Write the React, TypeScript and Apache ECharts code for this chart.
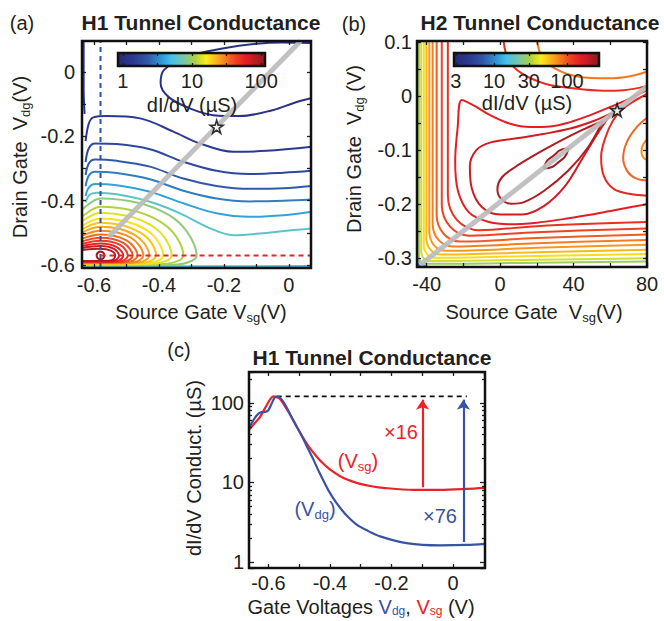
import React, { useEffect, useRef } from 'react';
import * as echarts from 'echarts';

// ================= DATA =================
// (a) H1 tunnel conductance: contour levels (µS) and contour lines in (Vsg, Vdg) [V]
const aLevels = [1.1, 1.1, 1.4, 1.8, 2.3, 3.0, 3.9, 6.0, 5.2, 3.6, 9, 11.4, 14, 17, 20, 24, 28, 33.5, 40, 47, 57, 70, 85, 103];
const aContours: number[][][] = [
  [[0.07, 0.09], [-0.02, 0.092], [-0.1, 0.088], [-0.2, 0.074], [-0.315, 0.047], [-0.385, 0.006], [-0.395, -0.035], [-0.37, -0.078], [-0.305, -0.113], [-0.233, -0.134], [-0.151, -0.137], [-0.048, -0.118], [0.013, -0.097], [0.07, -0.081]],
  [[-0.632, 0.1], [-0.632, -0.05], [-0.629, -0.13]],
  [[0.07, -0.232], [-0.069, -0.245], [-0.171, -0.248], [-0.274, -0.222], [-0.356, -0.185], [-0.458, -0.144], [-0.561, -0.137], [-0.602, -0.141], [-0.616, -0.16], [-0.626, -0.215]],
  [[0.07, -0.307], [-0.017, -0.313], [-0.12, -0.317], [-0.223, -0.307], [-0.325, -0.279], [-0.428, -0.24], [-0.53, -0.224], [-0.597, -0.222], [-0.616, -0.237], [-0.626, -0.28]],
  [[0.07, -0.354], [-0.017, -0.361], [-0.12, -0.363], [-0.223, -0.354], [-0.325, -0.331], [-0.428, -0.294], [-0.53, -0.276], [-0.597, -0.272], [-0.616, -0.284], [-0.626, -0.32]],
  [[0.07, -0.396], [-0.017, -0.4], [-0.12, -0.402], [-0.223, -0.393], [-0.325, -0.369], [-0.428, -0.333], [-0.53, -0.314], [-0.597, -0.31], [-0.616, -0.322], [-0.626, -0.355]],
  [[0.07, -0.434], [-0.017, -0.445], [-0.12, -0.45], [-0.223, -0.439], [-0.325, -0.408], [-0.428, -0.372], [-0.53, -0.352], [-0.597, -0.348], [-0.616, -0.359], [-0.626, -0.385]],
  [[0.07, -0.486], [-0.007, -0.493], [-0.089, -0.502], [-0.171, -0.507], [-0.253, -0.481], [-0.335, -0.439], [-0.428, -0.403], [-0.53, -0.38], [-0.592, -0.375], [-0.614, -0.382], [-0.626, -0.405]],
  [[-0.64, -0.604], [-0.3, -0.6035], [0.07, -0.603]],
  [[-0.64, -0.6085], [0.07, -0.608]],
  [[-0.645, -0.437], [-0.58, -0.393], [-0.462, -0.407], [-0.37, -0.444], [-0.314, -0.496], [-0.284, -0.57], [-0.343, -0.598], [-0.491, -0.601], [-0.645, -0.601]],
  [[-0.645, -0.457], [-0.58, -0.419], [-0.478, -0.431], [-0.399, -0.463], [-0.35, -0.507], [-0.325, -0.57], [-0.376, -0.596], [-0.503, -0.599], [-0.645, -0.599]],
  [[-0.645, -0.47], [-0.58, -0.437], [-0.492, -0.448], [-0.425, -0.476], [-0.383, -0.514], [-0.361, -0.57], [-0.405, -0.594], [-0.514, -0.597], [-0.645, -0.597]],
  [[-0.645, -0.484], [-0.58, -0.455], [-0.503, -0.464], [-0.443, -0.488], [-0.406, -0.522], [-0.387, -0.57], [-0.426, -0.593], [-0.522, -0.596], [-0.645, -0.596]],
  [[-0.645, -0.494], [-0.58, -0.468], [-0.512, -0.476], [-0.459, -0.498], [-0.426, -0.527], [-0.409, -0.57], [-0.443, -0.592], [-0.529, -0.595], [-0.645, -0.595]],
  [[-0.645, -0.503], [-0.58, -0.481], [-0.52, -0.488], [-0.474, -0.507], [-0.445, -0.533], [-0.43, -0.57], [-0.46, -0.591], [-0.535, -0.594], [-0.645, -0.594]],
  [[-0.645, -0.512], [-0.58, -0.493], [-0.486, -0.515], [-0.448, -0.57], [-0.474, -0.59], [-0.54, -0.593], [-0.645, -0.593]],
  [[-0.645, -0.521], [-0.58, -0.505], [-0.499, -0.524], [-0.466, -0.57], [-0.489, -0.589], [-0.546, -0.592], [-0.645, -0.592]],
  [[-0.645, -0.529], [-0.58, -0.515], [-0.51, -0.531], [-0.481, -0.57], [-0.501, -0.588], [-0.55, -0.591], [-0.645, -0.591]],
  [[-0.645, -0.536], [-0.58, -0.524], [-0.52, -0.537], [-0.496, -0.57], [-0.513, -0.587], [-0.555, -0.59], [-0.645, -0.59]],
  [[-0.645, -0.542], [-0.58, -0.533], [-0.53, -0.544], [-0.51, -0.57], [-0.524, -0.586], [-0.56, -0.589], [-0.645, -0.589]],
  [[-0.645, -0.548], [-0.58, -0.541], [-0.54, -0.549], [-0.523, -0.57], [-0.534, -0.585], [-0.565, -0.588], [-0.645, -0.588]],
  [[-0.645, -0.554], [-0.58, -0.549], [-0.548, -0.555], [-0.535, -0.57], [-0.543, -0.584], [-0.57, -0.587], [-0.645, -0.587]],
  [[-0.58, -0.558], [-0.5715, -0.5615], [-0.568, -0.57], [-0.5715, -0.5785], [-0.58, -0.582], [-0.5885, -0.5785], [-0.592, -0.57], [-0.5885, -0.5615], [-0.58, -0.558]],
];
const aStar = [-0.2225, -0.17];
const aPeak = [-0.58, -0.57];
const aDiagonal = [[-0.555, -0.5125], [0.036, 0.0964]];
const aColorbarRange = [0.85, 114];
const aColorbarLabels = [1, 10, 100];
const aColorbarMarks = [1, 3.16, 10, 31.6, 100];
const aXLabels = [-0.6, -0.4, -0.2, 0];
const aXMarks = [-0.6, -0.5, -0.4, -0.3, -0.2, -0.1, 0];
const aYLabels = [-0.6, -0.4, -0.2, 0];
const aYMarks = [-0.6, -0.5, -0.4, -0.3, -0.2, -0.1, 0];

// (b) H2 tunnel conductance: contour levels (µS) and lines in (Vsg, Vdg)
const bLevels = [7.7, 12.8, 27.9, 36.6, 48.2, 57.9, 69.5, 79.8, 95.6, 110, 126, 83, 132, 72.8, 91, 138, 151, 173, 218, 250];
const bContours: number[][][] = [
  [[-45.5, -0.303], [-44.5, -0.312], [-42.5, -0.318]],
  [[-45.5, -0.286], [-44.2, -0.305], [-41.5, -0.313], [-37, -0.318]],
  [[-44.3, 0.104], [-44.3, -0.1], [-44.3, -0.298], [-43.4, -0.3065], [-41.3, -0.31], [20, -0.308], [80, -0.306]],
  [[-43, 0.104], [-43, -0.1], [-43, -0.287], [-41.7, -0.2998], [-38.5, -0.305], [20, -0.3025], [80, -0.3]],
  [[-41.6, 0.104], [-41.6, -0.1], [-41.6, -0.275], [-39.9, -0.292], [-35.6, -0.299], [20, -0.2955], [80, -0.292]],
  [[-40.2, 0.104], [-40.2, -0.1], [-40.2, -0.263], [-38, -0.284], [-32.7, -0.293], [20, -0.2885], [80, -0.284]],
  [[-38.6, 0.104], [-38.6, -0.1], [-38.6, -0.25], [-36, -0.276], [-29.6, -0.286], [20, -0.2805], [80, -0.275]],
  [[-36.8, 0.104], [-36.8, -0.1], [-36.8, -0.235], [-33.6, -0.266], [-25.8, -0.278], [20, -0.272], [80, -0.266]],
  [[-34.6, 0.104], [-34.6, -0.1], [-34.6, -0.219], [-30.8, -0.2545], [-21.6, -0.269], [20, -0.2625], [80, -0.256]],
  [[-31.8, 0.104], [-31.8, -0.1], [-31.8, -0.2], [-27.4, -0.241], [-16.8, -0.258], [20, -0.2515], [80, -0.245]],
  [[-28.5, 0.104], [-28.5, -0.1], [-28.5, -0.182], [-23.6, -0.229], [-11.5, -0.248], [20, -0.2405], [80, -0.233]],
  [[20, 0.104], [22.7, 0.073], [30, 0.051], [42.7, 0.036], [59.1, 0.033], [70.9, 0.037], [80, 0.045]],
  [[1.8, 0.104], [4.5, 0.067], [11.8, 0.042], [24.5, 0.023], [40.9, 0.014], [56.4, 0.01], [67.3, 0.011], [80, 0.019]],
  [[80, -0.08], [77.5, -0.092], [77, -0.105], [78.2, -0.114], [80, -0.118]],
  [[80, -0.04], [74.5, -0.057], [69, -0.085], [67, -0.115], [69.5, -0.14], [74, -0.152], [80, -0.156]],
  [[80, 0.004], [72, -0.011], [66, -0.026], [61.5, -0.045], [57.5, -0.075], [55, -0.112], [56.5, -0.148], [62, -0.172], [71, -0.181], [80, -0.184]],
  [[80, 0.011], [70.9, -0.004], [60, -0.02], [49.1, -0.035], [38.2, -0.048], [27.3, -0.056], [16.4, -0.057], [5.5, -0.051], [-5.5, -0.035], [-14.5, -0.017], [-20.9, -0.007], [-23.2, -0.06], [-24.5, -0.12], [-23, -0.175], [-17, -0.215], [-7, -0.232], [5, -0.237], [20, -0.234], [35, -0.227], [50, -0.219], [65, -0.209], [80, -0.2]],
  [[61, -0.031], [50.9, -0.046], [38.2, -0.06], [23.6, -0.07], [9.1, -0.078], [-5.5, -0.086], [-13, -0.1], [-16.5, -0.13], [-15.5, -0.17], [-10, -0.205], [0, -0.219], [12, -0.219], [24, -0.203], [35, -0.168], [44, -0.12], [52, -0.075], [58, -0.044], [61, -0.031]],
  [[56, -0.046], [44.5, -0.063], [30, -0.088], [17.3, -0.112], [8.2, -0.131], [1, -0.15], [-1.5, -0.172], [0.5, -0.19], [6, -0.199], [13, -0.196], [24, -0.175], [37, -0.138], [48, -0.094], [56, -0.046]],
  [[23.6, -0.134], [25.7, -0.119], [29.2, -0.11], [32.7, -0.1], [37.3, -0.097], [35.3, -0.112], [31.8, -0.122], [28.3, -0.131], [23.6, -0.134]],
];
const bStar = [63.7, -0.026];
const bDiagonal = [[-43.5, -0.312], [80, 0.018]];
const bColorbarRange = [2.83, 274];
const bColorbarLabels = [3, 10, 30, 100];
const bXLabels = [-40, 0, 40, 80];
const bXMarks = [-40, -20, 0, 20, 40, 60, 80];
const bYLabels = [-0.3, -0.2, -0.1, 0, 0.1];
const bYMarks = [-0.3, -0.25, -0.2, -0.15, -0.1, -0.05, 0, 0.05, 0.1];

// (c) H1 conductance cuts through the peak
const cVdgVolts = [-0.663, -0.655, -0.644, -0.633, -0.622, -0.611, -0.6, -0.59, -0.579, -0.571, -0.563, -0.552, -0.541, -0.519, -0.498, -0.476, -0.454, -0.435, -0.418, -0.4, -0.38, -0.36, -0.34, -0.313, -0.28, -0.237, -0.151, -0.042, 0.044, 0.104];
const cVdgCond = [48, 55, 65, 73, 76.5, 77, 81, 97, 118, 120.5, 117, 104, 88.5, 60.3, 43, 29, 19.5, 13.5, 10, 7.4, 5.6, 4.45, 3.65, 2.95, 2.5, 2.1, 1.73, 1.62, 1.64, 1.69];
const cVsgVolts = [-0.663, -0.655, -0.644, -0.628, -0.606, -0.595, -0.584, -0.575, -0.563, -0.541, -0.519, -0.498, -0.48, -0.465, -0.44, -0.422, -0.4, -0.367, -0.33, -0.302, -0.26, -0.227, -0.129, -0.042, 0.044, 0.104];
const cVsgCond = [46, 49.7, 56, 66, 93, 110, 121, 119, 113, 84.5, 60.3, 43, 33, 27, 20.5, 17.3, 14.6, 12, 10.4, 9.6, 8.9, 8.55, 8.09, 8.09, 8.3, 8.55];
const cPeakCond = 121;
const cPeakSpan = [-0.573, 0.045];
const cArrowSg = [-0.099, 8.7, 110];
const cArrowDg = [0.034, 1.78, 110];
const cXLabels = [-0.6, -0.4, -0.2, 0];
const cXMarks = [-0.6, -0.5, -0.4, -0.3, -0.2, -0.1, 0, 0.1];
const cMinorMantissas = [2, 3, 4, 5, 6, 7, 8, 9];

// ================= STYLE =================
const FONT = '"Liberation Sans", Arial, Helvetica, sans-serif';
const INK = '#231f20';
const RED = '#ec2227';
const BLUE = '#3a52a3';
const JET: [number, string][] = [
  [0, '#262a78'], [0.1, '#2b3990'], [0.2, '#3157a6'], [0.3, '#2f9bd7'], [0.36, '#45c0e8'],
  [0.45, '#7cc7a4'], [0.52, '#a8cf45'], [0.6, '#fbec1d'], [0.7, '#f8981d'], [0.8, '#ef4123'],
  [0.87, '#e31e25'], [1, '#8e1a1e'],
];

const GA = { left: 82, top: 41, width: 229, height: 227 };
const GB = { left: 417, top: 41, width: 230, height: 226 };
const GC = { left: 249, top: 372, width: 236, height: 196 };
const CBA = { left: 118, top: 53, width: 147, height: 13 };
const CBB = { left: 454, top: 53, width: 145, height: 13 };
const AX = [-0.637, 0.068];
const AY = [-0.609, 0.0964];
const BX = [-45.3, 80];
const BY = [-0.316, 0.102];
const CX = [-0.663, 0.104];
const CY = [0.84, 245];

function hex(c: string) {
  return [1, 3, 5].map((i) => parseInt(c.slice(i, i + 2), 16));
}
function jet(t: number) {
  const u = Math.max(0, Math.min(1, t));
  for (let i = 1; i < JET.length; i++) {
    if (u <= JET[i][0]) {
      const [t0, c0] = JET[i - 1];
      const [t1, c1] = JET[i];
      const f = (u - t0) / (t1 - t0);
      const a = hex(c0);
      const b = hex(c1);
      return `rgb(${a.map((v, k) => Math.round(v + (b[k] - v) * f)).join(',')})`;
    }
  }
  return JET[JET.length - 1][1];
}
function levelColor(v: number, range: number[]) {
  const lo = Math.log10(range[0]);
  const hi = Math.log10(range[1]);
  return jet((Math.log10(v) - lo) / (hi - lo));
}

function valAxis(gridIndex: number, position: string, range: number[], marks: number[], labels: number[] | null, opts: any = {}) {
  return {
    type: 'value', gridIndex, position, min: range[0], max: range[1], z: 10,
    axisLine: { show: false, onZero: false }, splitLine: { show: false },
    axisTick: { show: true, inside: true, length: opts.tickLen ?? 4, lineStyle: { color: INK, width: 1.3 }, customValues: marks },
    axisLabel: labels
      ? { show: true, customValues: labels, fontSize: 20, color: INK, fontFamily: FONT, margin: opts.margin ?? 7, formatter: opts.formatter }
      : { show: false },
  };
}

function line(data: number[][], color: string, xi: number, yi: number, extra: any = {}) {
  return {
    type: 'line', xAxisIndex: xi, yAxisIndex: yi, data, symbol: 'none', showSymbol: false,
    smooth: 0.35, silent: true, clip: true, z: 2,
    lineStyle: { color, width: 2 }, ...extra,
  };
}

const STAR = 'path://M50,0 L61.8,35.4 L100,35.4 L69.1,57.3 L80.9,92.7 L50,70.8 L19.1,92.7 L30.9,57.3 L0,35.4 L38.2,35.4 Z';

function star(pt: number[], xi: number, yi: number) {
  return {
    type: 'scatter', xAxisIndex: xi, yAxisIndex: yi, data: [pt], symbol: STAR, symbolSize: 13, silent: true, z: 8,
    itemStyle: { color: '#ffffff', borderColor: '#000', borderWidth: 1.6 },
  };
}

const richBase = (subSize = 13, subPad = 11) => ({
  n: { fontSize: 20, fontFamily: FONT, fill: INK },
  s: { fontSize: subSize, fontFamily: FONT, fill: INK, padding: [subPad, 0, 0, 0] },
  b: { fontSize: 20, fontFamily: FONT, fill: BLUE },
  bs: { fontSize: subSize, fontFamily: FONT, fill: BLUE, padding: [subPad, 0, 0, 0] },
  r: { fontSize: 20, fontFamily: FONT, fill: RED },
  rs: { fontSize: subSize, fontFamily: FONT, fill: RED, padding: [subPad, 0, 0, 0] },
});

function txt(x: number, y: number, text: string, o: any = {}) {
  return {
    type: 'text', x, y, z: 40, silent: true, rotation: o.rot || 0,
    style: {
      text, fill: o.color || INK, fontSize: o.size || 20, fontFamily: FONT, fontWeight: o.weight || 'normal',
      align: 'center', verticalAlign: 'middle', textAlign: 'center', textVerticalAlign: 'middle',
      rich: o.rich,
    },
  };
}

function frame(g: any, z = 30) {
  return { type: 'rect', z, silent: true, shape: { x: g.left, y: g.top, width: g.width, height: g.height }, style: { fill: 'none', stroke: '#111', lineWidth: 2.5 } };
}

function gradientBar(g: any) {
  return {
    type: 'rect', z: 5, silent: true, shape: { x: g.left, y: g.top, width: g.width, height: g.height },
    style: { fill: new echarts.graphic.LinearGradient(0, 0, 1, 0, JET.map(([o, c]) => ({ offset: o, color: c }))) },
  };
}

function cbAxis(gridIndex: number, position: string, range: number[], marks: number[], labels: number[] | null) {
  return valAxis(gridIndex, position, range.map(Math.log10), marks.map(Math.log10), labels ? labels.map(Math.log10) : null, {
    tickLen: 3, margin: 5, formatter: (v: number) => String(Math.round(Math.pow(10, v))),
  });
}

function buildOption() {
  const series: any[] = [];
  // (a)
  aContours.forEach((pts, i) => series.push(line(pts, levelColor(aLevels[i], aColorbarRange), 0, 0)));
  series.push(line(aDiagonal, 'rgba(188,188,188,0.92)', 0, 0, { smooth: false, z: 3, lineStyle: { color: 'rgba(188,188,188,0.92)', width: 5 } }));
  series.push(line([[aPeak[0], AY[0]], [aPeak[0], AY[1]]], BLUE, 0, 0, { smooth: false, z: 4, lineStyle: { color: '#3151a3', width: 2, type: [5, 4] } }));
  series.push(line([[aPeak[0], aPeak[1]], [AX[1], aPeak[1]]], RED, 0, 0, { smooth: false, z: 4, lineStyle: { color: RED, width: 2, type: [5, 4] } }));
  series.push(star(aStar, 0, 0));
  // (b)
  bContours.forEach((pts, i) => series.push(line(pts, levelColor(bLevels[i], bColorbarRange), 2, 2)));
  series.push(line(bDiagonal, 'rgba(188,188,188,0.92)', 2, 2, { smooth: false, z: 3, lineStyle: { color: 'rgba(188,188,188,0.92)', width: 5 } }));
  series.push(star(bStar, 2, 2));
  // (c)
  series.push(line([[cPeakSpan[0], cPeakCond], [cPeakSpan[1], cPeakCond]], INK, 4, 4, { smooth: false, lineStyle: { color: '#111', width: 1.8, type: [5, 4] } }));
  series.push(line(cVsgVolts.map((v, i) => [v, cVsgCond[i]]), RED, 4, 4, {
    smooth: 0.3, z: 4, lineStyle: { color: RED, width: 2.2 },
    markLine: {
      silent: true, symbol: ['none', 'arrow'], symbolSize: 10, label: { show: false },
      lineStyle: { color: RED, width: 2.2, type: 'solid' },
      data: [[{ coord: [cArrowSg[0], cArrowSg[1]] }, { coord: [cArrowSg[0], cArrowSg[2]] }]],
    },
  }));
  series.push(line(cVdgVolts.map((v, i) => [v, cVdgCond[i]]), BLUE, 4, 4, {
    smooth: 0.3, z: 5, lineStyle: { color: BLUE, width: 2.2 },
    markLine: {
      silent: true, symbol: ['none', 'arrow'], symbolSize: 10, label: { show: false },
      lineStyle: { color: BLUE, width: 2.2, type: 'solid' },
      data: [[{ coord: [cArrowDg[0], cArrowDg[1]] }, { coord: [cArrowDg[0], cArrowDg[2]] }]],
    },
  }));

  const logFmt = (v: number) => {
    const l = Math.log10(v);
    return Math.abs(l - Math.round(l)) < 1e-6 ? String(Math.round(v)) : '';
  };
  const logAxis = (position: string, labels: boolean) => ({
    type: 'log', logBase: 10, gridIndex: 2, position, min: CY[0], max: CY[1], z: 10,
    axisLine: { show: false, onZero: false }, splitLine: { show: false }, minorTick: { show: false },
    axisTick: { show: true, inside: true, length: 5, lineStyle: { color: INK, width: 1.3 } },
    axisLabel: labels ? { show: true, fontSize: 20, color: INK, fontFamily: FONT, margin: 5, formatter: logFmt } : { show: false },
  });
  const minorMarks: number[] = [];
  [1, 10, 100].forEach((d) => cMinorMantissas.forEach((m) => minorMarks.push(Math.log10(m * d))));
  const minorAxis = (position: string) => valAxis(2, position, CY.map(Math.log10), minorMarks, null, { tickLen: 3 });

  const xAxis = [
    valAxis(0, 'bottom', AX, aXMarks, aXLabels),
    valAxis(0, 'top', AX, aXMarks, null),
    valAxis(1, 'bottom', BX, bXMarks, bXLabels),
    valAxis(1, 'top', BX, bXMarks, null),
    valAxis(2, 'bottom', CX, cXMarks, cXLabels, { margin: 5 }),
    valAxis(2, 'top', CX, cXMarks, null),
    cbAxis(3, 'bottom', aColorbarRange, aColorbarMarks, aColorbarLabels),
    cbAxis(3, 'top', aColorbarRange, aColorbarMarks, null),
    cbAxis(4, 'bottom', bColorbarRange, bColorbarLabels, bColorbarLabels),
    cbAxis(4, 'top', bColorbarRange, bColorbarLabels, null),
  ];
  const yAxis = [
    valAxis(0, 'left', AY, aYMarks, aYLabels),
    valAxis(0, 'right', AY, aYMarks, null),
    valAxis(1, 'left', BY, bYMarks, bYLabels, { margin: 5 }),
    valAxis(1, 'right', BY, bYMarks, null),
    logAxis('left', true),
    logAxis('right', false),
    minorAxis('left'),
    minorAxis('right'),
    { type: 'value', gridIndex: 3, show: false, min: 0, max: 1 },
    { type: 'value', gridIndex: 4, show: false, min: 0, max: 1 },
  ];

  const R = richBase();
  const RC = richBase(12, 8);
  const graphic = [
    gradientBar(CBA), gradientBar(CBB),
    frame(GA), frame(GB), frame(GC), frame(CBA), frame(CBB),
    txt(22, 23, '(a)'),
    txt(201, 22, 'H1 Tunnel Conductance', { weight: 'bold', size: 21 }),
    txt(354, 24, '(b)'),
    txt(540, 22, 'H2 Tunnel Conductance', { weight: 'bold', size: 21 }),
    txt(179, 350, '(c)'),
    txt(372, 357, 'H1 Tunnel Conductance', { weight: 'bold', size: 21 }),
    txt(201, 312, '{n|Source Gate V}{s|sg}{n|(V)}', { rich: R }),
    txt(534, 312, '{n|Source Gate  V}{s|sg}{n|(V)}', { rich: R }),
    txt(20, 157, '{n|Drain Gate  V}{s|dg}{n|(V)}', { rich: R, rot: Math.PI / 2 }),
    txt(354, 149, '{n|Drain Gate  V}{s|dg}{n| (V)}', { rich: R, rot: Math.PI / 2 }),
    txt(194, 468, 'dI/dV Conduct. (µS)', { rot: Math.PI / 2 }),
    txt(361, 607, '{n|Gate Voltages }{b|V}{bs|dg}{n|, }{r|V}{rs|sg}{n| (V)}', { rich: RC }),
    txt(192, 105, 'dI/dV (µS)'),
    txt(527, 103, 'dI/dV (µS)'),
    txt(401, 432, '×16', { color: RED }),
    txt(440, 516, '×76', { color: BLUE }),
    txt(358, 461, '{r|(V}{rs|sg}{r|)}', { rich: R }),
    txt(315, 509, '{b|(V}{bs|dg}{b|)}', { rich: R }),
  ];

  return {
    animation: false,
    backgroundColor: '#ffffff',
    textStyle: { fontFamily: FONT },
    grid: [GA, GB, GC, CBA, CBB].map((g) => ({ ...g, show: false, containLabel: false })),
    xAxis, yAxis, series, graphic,
  };
}

export default function App() {
  const ref = useRef<HTMLDivElement>(null);
  useEffect(() => {
    const chart = echarts.init(ref.current!, null, { renderer: 'svg' });
    chart.setOption(buildOption() as any);
    return () => chart.dispose();
  }, []);
  return <div ref={ref} style={{ position: 'fixed', left: 0, top: 0, width: 664, height: 621, background: '#fff' }} />;
}
